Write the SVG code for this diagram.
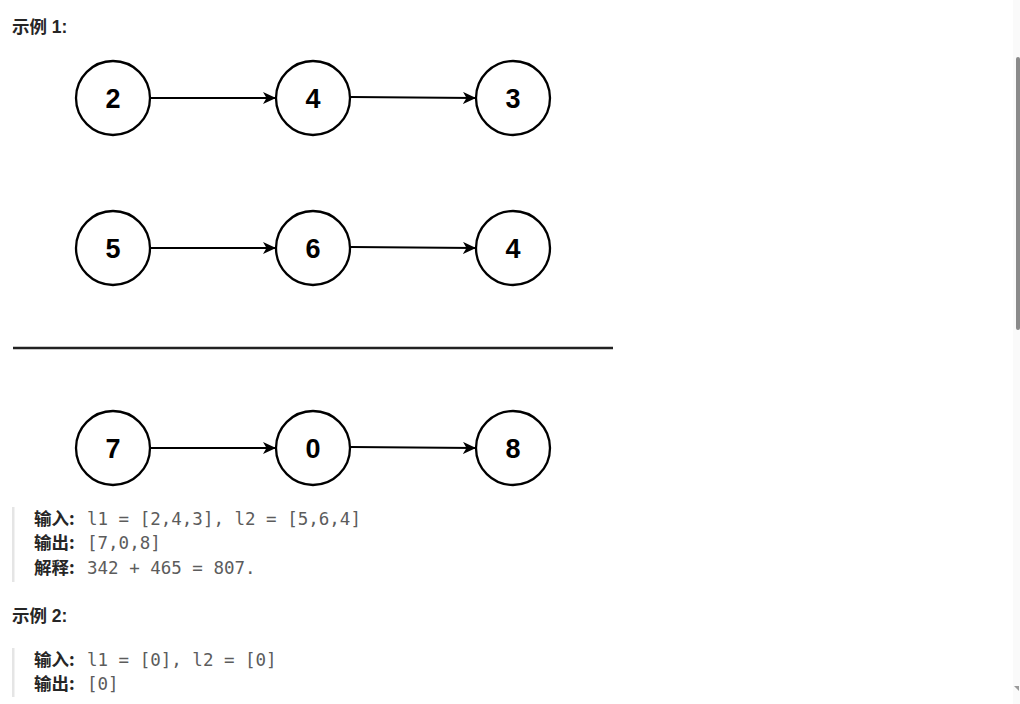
<svg xmlns="http://www.w3.org/2000/svg" width="1020" height="704" viewBox="0 0 1020 704">
<style>
.node circle{fill:#fff;stroke:#000;stroke-width:2.3}
.node text{font-family:"Liberation Sans",Arial,sans-serif;font-weight:bold;font-size:27px;fill:#000;text-anchor:middle}
.edge{stroke:#000;stroke-width:2;fill:none;marker-end:url(#ah)}
.h{font-family:"Liberation Sans","Noto Sans CJK SC",sans-serif;font-weight:bold;font-size:17.5px;fill:#262626}
.lab{font-family:"Noto Sans CJK SC","Liberation Sans",sans-serif;font-weight:bold;font-size:17.5px;fill:#262626}
.code{font-family:"DejaVu Sans Mono","Liberation Mono",monospace;font-size:17.5px;fill:#5c5c5c}
</style>
<defs>
<marker id="ah" markerWidth="14" markerHeight="12" refX="12" refY="6" orient="auto" markerUnits="userSpaceOnUse">
<path d="M0,0 L13,6 L0,12 L3.5,6 Z" fill="#000"/>
</marker>
</defs>
<rect width="1020" height="704" fill="#fff"/>
<text class="h" x="12" y="33">示例 1:</text>
<g id="connectors">
<line class="edge" x1="151" y1="98" x2="275" y2="98"/>
<line class="edge" x1="351" y1="97" x2="475" y2="98"/>
<line class="edge" x1="151" y1="248" x2="275" y2="248"/>
<line class="edge" x1="351" y1="247" x2="475" y2="248"/>
<line class="edge" x1="151" y1="448" x2="275" y2="448"/>
<line class="edge" x1="351" y1="447" x2="475" y2="448"/>
</g>
<g id="n2" class="node"><circle cx="113" cy="98" r="37"/><text x="113" y="108">2</text></g>
<g id="n4a" class="node"><circle cx="313" cy="98" r="37"/><text x="313" y="108">4</text></g>
<g id="n3" class="node"><circle cx="513" cy="98" r="37"/><text x="513" y="108">3</text></g>
<g id="n5" class="node"><circle cx="113" cy="248" r="37"/><text x="113" y="258">5</text></g>
<g id="n6" class="node"><circle cx="313" cy="248" r="37"/><text x="313" y="258">6</text></g>
<g id="n4b" class="node"><circle cx="513" cy="248" r="37"/><text x="513" y="258">4</text></g>
<line x1="13" y1="348" x2="613" y2="348" stroke="#222" stroke-width="2.5"/>
<g id="n7" class="node"><circle cx="113" cy="448" r="37"/><text x="113" y="458">7</text></g>
<g id="n0" class="node"><circle cx="313" cy="448" r="37"/><text x="313" y="458">0</text></g>
<g id="n8" class="node"><circle cx="513" cy="448" r="37"/><text x="513" y="458">8</text></g>
<rect x="12" y="507" width="2.5" height="75" fill="#e5e5e5"/>
<text class="lab" x="34" y="525">输入:</text>
<text class="code" x="87" y="525">l1 = [2,4,3], l2 = [5,6,4]</text>
<text class="lab" x="34" y="549">输出:</text>
<text class="code" x="87" y="549">[7,0,8]</text>
<text class="lab" x="34" y="574">解释:</text>
<text class="code" x="87" y="574">342 + 465 = 807.</text>
<text class="h" x="12" y="622">示例 2:</text>
<rect x="12" y="648" width="2.5" height="49" fill="#e5e5e5"/>
<text class="lab" x="34" y="666">输入:</text>
<text class="code" x="87" y="666">l1 = [0], l2 = [0]</text>
<text class="lab" x="34" y="690">输出:</text>
<text class="code" x="87" y="690">[0]</text>
<rect x="1013" y="0" width="7" height="704" fill="#fafafa"/>
<rect x="1016" y="57" width="4" height="273" rx="2" fill="#8a8a8a"/>
<path d="M1014,686 L1019,686 L1019,691 Z" fill="#9a9a9a"/>
</svg>
